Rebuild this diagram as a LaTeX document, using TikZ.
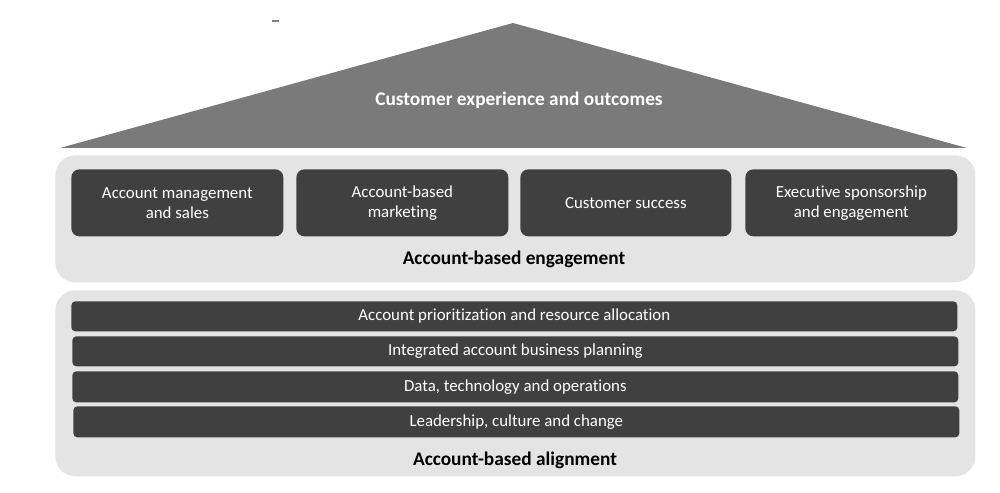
\documentclass[tikz,border=0pt]{standalone}
\usepackage{fontspec}
\setmainfont{Carlito}[Ligatures=NoCommon]
\begin{document}
\begin{tikzpicture}[x=0.02cm,y=-0.02cm,
  panel/.style={fill=panelgray, rounded corners=20*0.02cm, draw=none},
  tile/.style={fill=tiledark, rounded corners=8*0.02cm, draw=none, text=white,
    font=\fontsize{9.6}{11.6}\selectfont, align=center, inner sep=0pt},
  bar/.style={fill=tiledark, rounded corners=4*0.02cm, draw=none, text=white,
    font=\fontsize{9.6}{11.6}\selectfont, inner sep=0pt},
  heading/.style={font=\bfseries\fontsize{11}{13}\selectfont, text=black, inner sep=0pt}
]
\definecolor{panelgray}{HTML}{E4E4E4}
\definecolor{tiledark}{HTML}{404040}
\definecolor{roofgray}{HTML}{7A7A7A}
\useasboundingbox (0,0) rectangle (1000,493);
% roof
\fill[roofgray] (60,148) -- (513,23) -- (967,148) -- cycle;
\node[font=\bfseries\fontsize{11}{13}\selectfont, text=white, inner sep=0pt] (roof) at (519,100) {Customer experience and outcomes};
\draw[gray, line width=0.6pt] (272,21) -- (279,21);
% engagement panel
\node[panel, minimum width=920*0.02cm, minimum height=127*0.02cm, anchor=north west] (eng) at (55,155) {};
\node[tile, minimum width=212*0.02cm, minimum height=67*0.02cm, anchor=north west] (t1) at (71,169) {Account management\\and sales};
\node[tile, minimum width=212*0.02cm, minimum height=67*0.02cm, anchor=north west] (t2) at (296,169) {Account-based\\marketing};
\node[tile, minimum width=211*0.02cm, minimum height=67*0.02cm, anchor=north west] (t3) at (520,169) {Customer success};
\node[tile, minimum width=212*0.02cm, minimum height=67*0.02cm, anchor=north west] (t4) at (745,169) {Executive sponsorship\\and engagement};
\node[heading] (engl) at (514,259) {Account-based engagement};
% alignment panel
\node[panel, minimum width=920*0.02cm, minimum height=186*0.02cm, anchor=north west] (ali) at (55,290) {};
\node[bar, minimum width=886*0.02cm, minimum height=30*0.02cm, anchor=north west] (b1) at (71,301) {Account prioritization and resource allocation};
\node[bar, minimum width=886*0.02cm, minimum height=30*0.02cm, anchor=north west] (b2) at (72,336) {Integrated account business planning};
\node[bar, minimum width=886*0.02cm, minimum height=31*0.02cm, anchor=north west] (b3) at (72,371) {Data, technology and operations};
\node[bar, minimum width=886*0.02cm, minimum height=31*0.02cm, anchor=north west] (b4) at (73,406) {Leadership, culture and change};
\node[heading] (alil) at (515,460) {Account-based alignment};
\end{tikzpicture}
\end{document}
